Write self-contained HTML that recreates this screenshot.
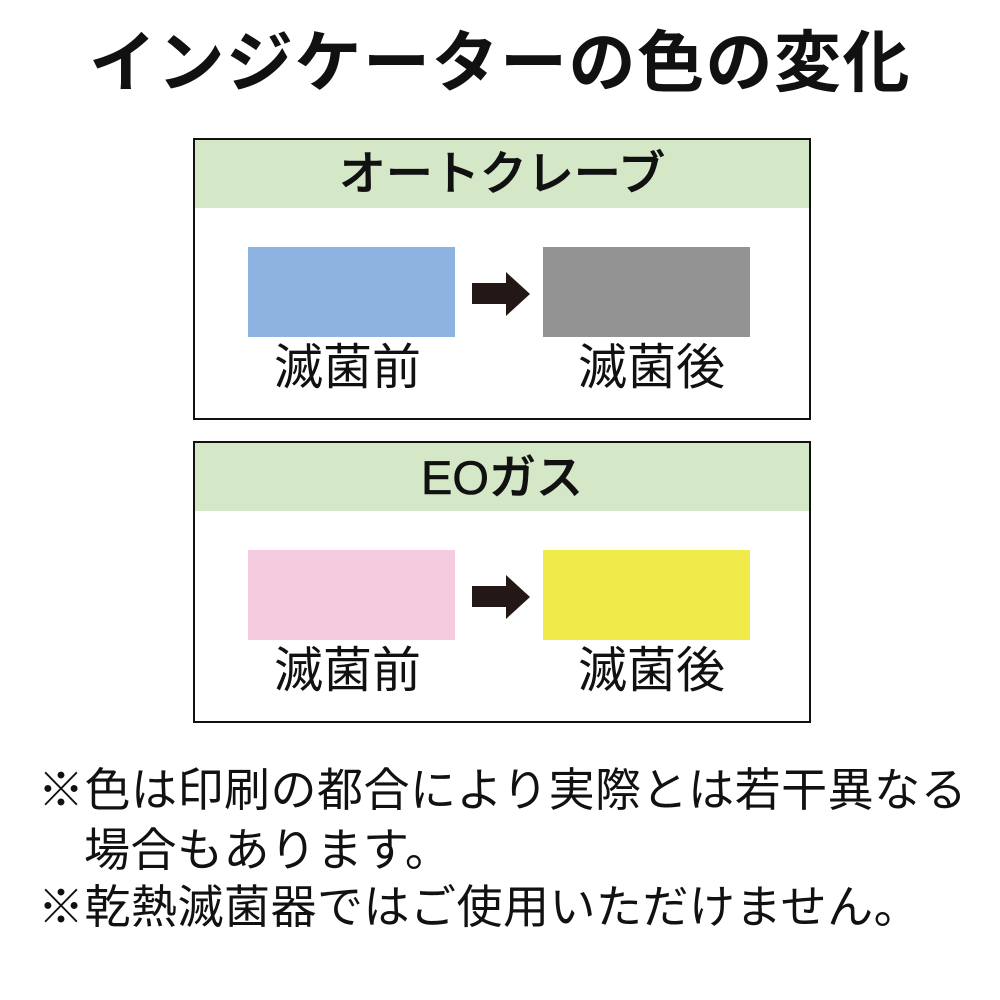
<!DOCTYPE html>
<html><head><meta charset="utf-8"><style>
body{margin:0;width:1000px;height:1000px;background:#fff;position:relative;overflow:hidden;font-family:"Liberation Sans","Noto Sans CJK JP",sans-serif;color:#111}
.a{position:absolute;white-space:nowrap;line-height:1}
.box{position:absolute;left:193px;width:614px;height:278px;border:2px solid #111;}
.hd{position:absolute;left:0;top:0;width:614px;height:68px;background:#d4e8c8}
.r{position:absolute;width:207px;height:90px}
</style></head><body>
<div class="a" style="left:0;width:1000px;text-align:center;top:30px;font-size:67px;letter-spacing:1.5px;font-weight:bold">インジケーターの色の変化</div>

<div class="box" style="top:138px"><div class="hd"></div>
<div class="a" style="left:0;width:614px;text-align:center;top:10px;font-size:47px;font-weight:500;-webkit-text-stroke:0.6px #111">オートクレーブ</div></div>
<div class="r" style="left:248px;top:247px;background:#8db3e0"></div>
<div class="r" style="left:543px;top:247px;background:#939393"></div>
<svg class="a" style="left:0;top:0" width="1000" height="1000"><polygon points="472,283 506,283 506,272 530,294 506,316 506,304 472,304" fill="#231815"/><polygon points="472,586 506,586 506,575 530,597 506,619 506,607 472,607" fill="#231815"/></svg>
<div class="a" style="left:244px;width:207px;text-align:center;top:344px;font-size:49px">滅菌前</div>
<div class="a" style="left:548px;width:207px;text-align:center;top:344px;font-size:49px">滅菌後</div>

<div class="box" style="top:441px"><div class="hd"></div>
<div class="a" style="left:0;width:614px;text-align:center;top:11px;font-size:47px;font-weight:500;-webkit-text-stroke:0.6px #111">EOガス</div></div>
<div class="r" style="left:248px;top:550px;background:#f5cbdf"></div>
<div class="r" style="left:543px;top:550px;background:#f0ea4a"></div>
<div class="a" style="left:244px;width:207px;text-align:center;top:647px;font-size:49px">滅菌前</div>
<div class="a" style="left:548px;width:207px;text-align:center;top:647px;font-size:49px">滅菌後</div>

<div class="a" style="left:38px;top:767px;font-size:46px;letter-spacing:0.5px">※色は印刷の都合により実際とは若干異なる</div>
<div class="a" style="left:84px;top:827px;font-size:46px;letter-spacing:0.5px">場合もあります。</div>
<div class="a" style="left:38px;top:884px;font-size:46px;letter-spacing:0.5px">※乾熱滅菌器ではご使用いただけません。</div>
</body></html>
